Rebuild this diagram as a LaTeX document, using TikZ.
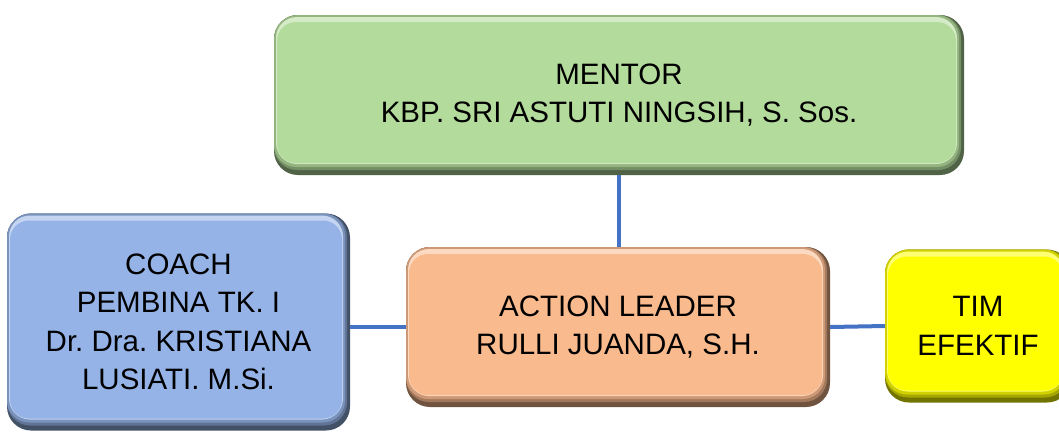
\documentclass[tikz,border=0pt]{standalone}
\usepackage{fontspec}
\setmainfont{Liberation Sans}
\frenchspacing
\definecolor{cgreen}{HTML}{B3DB9B}
\definecolor{cblue}{HTML}{95B3E6}
\definecolor{corange}{HTML}{F9BA8E}
\definecolor{cyellow}{HTML}{FFFF00}
\definecolor{cline}{HTML}{4472C4}
\tikzset{
  bevbox/.style={rounded corners=24pt, fill=#1!45!black, draw=none, text=black,
    align=center, font=\fontsize{29.5}{38.5}\selectfont, inner sep=0pt,
    path picture={
      \fill[#1!65!black, rounded corners=23pt]
        (path picture bounding box.north west) rectangle
        ([shift={(-3pt,5pt)}]path picture bounding box.south east);
      \fill[#1!82!black, rounded corners=22pt]
        (path picture bounding box.north west) rectangle
        ([shift={(-5pt,8pt)}]path picture bounding box.south east);
      \fill[#1!55!white, rounded corners=21pt]
        ([shift={(2pt,-2pt)}]path picture bounding box.north west) rectangle
        ([shift={(-7pt,11pt)}]path picture bounding box.south east);
      \fill[#1, rounded corners=19pt]
        ([shift={(3pt,-7pt)}]path picture bounding box.north west) rectangle
        ([shift={(-8pt,12pt)}]path picture bounding box.south east);
    }},
  conn/.style={draw=cline, line width=4pt},
}
\begin{document}
\begin{tikzpicture}[x=1pt,y=-1pt]
\useasboundingbox (0,0) rectangle (1059,432);
\node[bevbox=cgreen, minimum width=690pt, minimum height=160pt] (mentor) at (619,95)
  {MENTOR\\KBP. SRI ASTUTI NINGSIH, S. Sos.};
\node[bevbox=cblue, minimum width=343pt, minimum height=217pt] (coach) at (178.5,322)
  {COACH\\PEMBINA TK. I\\Dr. Dra. KRISTIANA\\LUSIATI. M.Si.};
\node[bevbox=corange, minimum width=424pt, minimum height=160pt] (action) at (618,327)
  {ACTION LEADER\\RULLI JUANDA, S.H.};
\node[bevbox=cyellow, minimum width=186pt, minimum height=153pt] (tim) at (978,326)
  {TIM\\EFEKTIF};
\draw[conn] (mentor.south) -- (mentor.south |- action.north);
\draw[conn] (action.west) -- (action.west -| coach.east);
\draw[conn] (action.east) -- (tim.west);
\end{tikzpicture}
\end{document}
